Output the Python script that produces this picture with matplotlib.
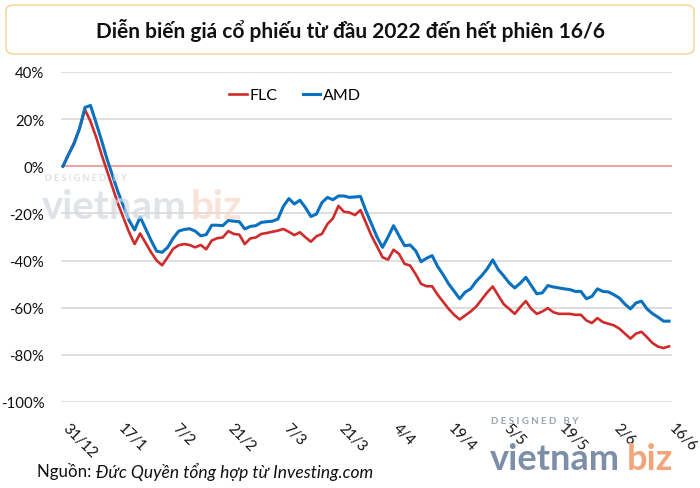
import matplotlib
matplotlib.use("Agg")
import matplotlib.pyplot as plt
from matplotlib.patches import FancyBboxPatch
import matplotlib.transforms as mtransforms
import numpy as np

plt.rcParams['font.family'] = ['Lato', 'Noto Sans', 'DejaVu Sans']

title = "Diễn biến giá cổ phiếu từ đầu 2022 đến hết phiên 16/6"
source_label = "Nguồn: "
source_text = "Đức Quyền tổng hợp từ Investing.com"

tick_labels = ["31/12", "17/1", "7/2", "21/2", "7/3", "21/3", "4/4", "19/4",
               "5/5", "19/5", "2/6", "16/6"]

flc = [0, 5, 10, 16, 24, 19, 12.5, 5, -2, -9,
       -16, -22, -28, -33, -28.5, -32.5, -36.5, -40, -42, -38.6,
       -35, -33.5, -33, -33.4, -34.4, -33.4, -35.2, -31.5, -30.5, -30.2,
       -27.5, -28.7, -29, -33, -30.6, -30.2, -28.7, -28.3, -27.8, -27.3,
       -26.6, -27.8, -29.2, -28, -30.1, -32, -29.7, -28.7, -24.5, -22.1,
       -16.8, -19.3, -19.6, -20.7, -18.6, -24, -29.5, -34, -38.6, -39.6,
       -35.4, -37.2, -41.4, -42.1, -45.7, -49.9, -50.9, -50.9, -54.5, -57.5,
       -60.5, -63, -65, -63.3, -61.6, -59.5, -56.5, -53.5, -51, -54.8,
       -58.5, -60.5, -62.6, -59.7, -57.2, -60.5, -62.6, -61.6, -60.2, -61.9,
       -62.6, -62.6, -62.6, -63, -63, -65.4, -66.5, -64.4, -66.1, -66.8,
       -67.5, -68.9, -71, -73.1, -71, -70.2, -72.5, -75, -76.5, -77.1,
       -76.4]

amd = [0, 5, 9.5, 16, 25, 25.8, 18.5, 11, 3, -4,
       -11, -17, -23, -27, -21.5, -26.5, -31.5, -36, -36.5, -34.4,
       -30.5, -27.5, -26.8, -26.5, -27.5, -29.5, -29, -25, -25, -25.2,
       -23, -23.3, -23.5, -26.6, -25.5, -25.2, -23.8, -23.5, -23.3, -22.4,
       -17, -13.7, -16, -14.4, -17.5, -21.3, -20.3, -15.4, -13.2, -14.2,
       -12.6, -12.6, -13.2, -13, -12.8, -19, -24.5, -30, -34.4, -30,
       -25.2, -29.5, -33.7, -33.4, -35.8, -40.5, -39, -37.9, -42.5, -46,
       -49.9, -53, -56.2, -53.4, -52, -48.8, -46.4, -43.5, -39.7, -43.8,
       -46.5, -49.5, -51.6, -49.6, -47.1, -50.6, -54.1, -53.7, -50.6, -51.2,
       -51.6, -52, -52.3, -53.1, -53.1, -56.2, -55.2, -52, -53.1, -53.3,
       -54.5, -55.9, -58.5, -60.5, -58, -57.2, -60.5, -62.5, -64, -65.7,
       -65.7]

yticks = [40, 20, 0, -20, -40, -60, -80, -100]

fig = plt.figure(figsize=(7, 4.89), dpi=100)
fig.patch.set_facecolor("white")

# title box
box = FancyBboxPatch((6 / 700, 1 - 55 / 489), 688 / 700, 49 / 489,
                     boxstyle="round,pad=0,rounding_size=0.012",
                     transform=fig.transFigure, facecolor="white",
                     edgecolor="#F2D38E", linewidth=1.0)
fig.patches.append(box)
fig.text(0.5, 1 - 31 / 489, title, ha="center", va="center",
         fontsize=15, fontweight="bold", color="#111111")

ax = fig.add_axes([61 / 700, 1 - 403 / 489, 611 / 700, 330 / 489])
x = np.arange(len(flc))

for s in ax.spines.values():
    s.set_visible(False)
ax.set_ylim(-100, 40)
ax.set_xlim(-0.36, 110.54)
ax.set_yticks(yticks)
ax.set_yticklabels([f"{v}%" for v in yticks], fontsize=10.8, color="#111111")
ax.tick_params(axis="y", length=0, pad=12)
for v in yticks:
    if v == 0:
        ax.axhline(v, color="#E9A3A3", linewidth=1.4, zorder=1)
    else:
        ax.axhline(v, color="#D9D9D9", linewidth=1.2, zorder=1)

tick_pos = np.arange(0, len(flc), 10)
ax.set_xticks(tick_pos)
ax.set_xticklabels(tick_labels, rotation=-45, ha="left", va="top",
                   rotation_mode="anchor", fontsize=10.8, color="#111111")
ax.tick_params(axis="x", length=0, pad=13)
offset = mtransforms.ScaledTranslation(7 / 100, 0, fig.dpi_scale_trans)
for lab in ax.get_xticklabels():
    lab.set_transform(lab.get_transform() + offset)

# watermark
fig.text(0.064, 1 - 181 / 489, "D E S I G N E D   B Y", fontsize=6.5,
         color="#D5D8DD", fontweight="bold", alpha=0.8)
fig.text(0.06, 1 - 219 / 489, "vietnam", fontsize=29, color="#D3D9E0",
         fontweight="bold", alpha=0.7, va="baseline")
fig.text(0.272, 1 - 219 / 489, "biz", fontsize=29, color="#F7D6C8",
         fontweight="bold", alpha=0.7, va="baseline")

l1, = ax.plot(x, flc, color="#D02B2B", linewidth=1.9, label="FLC", zorder=3)
l2, = ax.plot(x, amd, color="#0A70C0", linewidth=2.2, label="AMD", zorder=4)

ax.legend(handles=[l1, l2], loc="upper left", bbox_to_anchor=(0.252, 0.995),
          ncol=2, frameon=False, fontsize=11.5, handlelength=1.1,
          handletextpad=0.15, columnspacing=1.6)

fig.text(37 / 700, 1 - 472 / 489, source_label, fontsize=12.2,
         color="#111111", va="center", ha="left")
fig.text(96 / 700, 1 - 472 / 489, source_text, fontsize=12.5,
         color="#111111", va="center", ha="left", style="italic")

fig.text(491 / 700, 1 - 424 / 489, "D E S I G N E D   B Y", fontsize=7,
         color="#9AA4B2", fontweight="bold")
fig.text(490 / 700, 1 - 470 / 489, "vietnam", fontsize=26,
         color="#7D8FA8", fontweight="bold", va="baseline")
fig.text(627 / 700, 1 - 470 / 489, "biz", fontsize=26,
         color="#F2A47A", fontweight="bold", va="baseline")

fig.savefig("out.png", dpi=100)
